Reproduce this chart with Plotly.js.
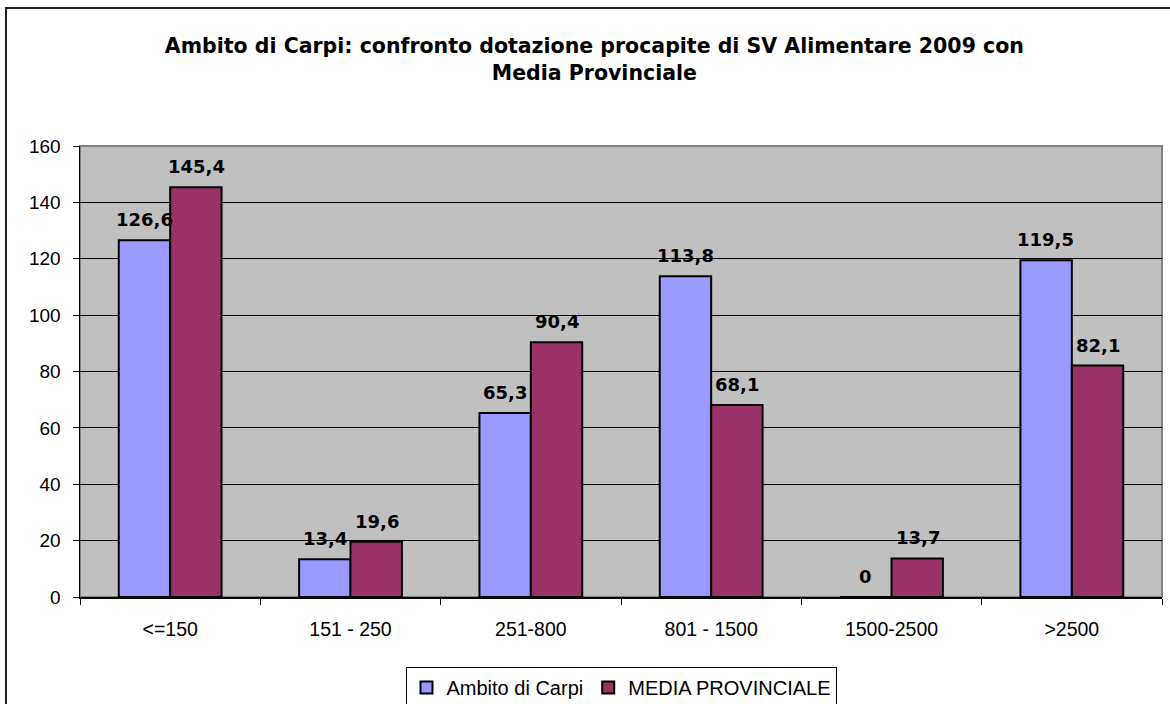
<!DOCTYPE html>
<html>
<head>
<meta charset="utf-8">
<script src="https://cdn.plot.ly/plotly-3.0.1.min.js"></script>
<style>
html,body{margin:0;padding:0;background:#fff;}
#wrap{position:relative;width:1170px;height:704px;overflow:hidden;}
#chart{position:absolute;left:0;top:0;width:1170px;height:704px;}
#frame{position:absolute;left:5px;top:7px;width:1200px;height:740px;border:2px solid #222;pointer-events:none;box-sizing:border-box;}
</style>
</head>
<body>
<div id="wrap"><div id="chart"></div><div id="frame"></div></div>
<script>
const categories = ['<=150', '151 - 250', '251-800', '801 - 1500', '1500-2500', '>2500'];
const carpi = [126.6, 13.4, 65.3, 113.8, 0, 119.5];
const provinciale = [145.4, 19.6, 90.4, 68.1, 13.7, 82.1];
const seriesNames = ['Ambito di Carpi', 'MEDIA PROVINCIALE'];
const yTicks = [0, 20, 40, 60, 80, 100, 120, 140, 160];

function fmt(v){ return v === 0 ? '0' : v.toFixed(1).replace('.', ','); }

const traces = [
  {type:'bar', name:seriesNames[0], x:categories, y:carpi,
   marker:{color:'#9999FF', line:{color:'#000', width:2}}},
  {type:'bar', name:seriesNames[1], x:categories, y:provinciale,
   marker:{color:'#993366', line:{color:'#000', width:2}}}
];

const annotations = [];
[carpi, provinciale].forEach((arr, si) => {
  arr.forEach((v, i) => {
    annotations.push({x:categories[i], y:v, xref:'x', yref:'y', text:fmt(v),
      showarrow:false, yanchor:'bottom', xshift: si === 0 ? -26 : 26, yshift:8,
      font:{family:'DejaVu Sans', size:18, color:'#000', weight:'bold'}});
  });
});

const layout = {
  width:1170, height:704,
  margin:{l:80, r:8, t:146, b:107, autoexpand:false},
  paper_bgcolor:'#fff', plot_bgcolor:'#C0C0C0',
  title:{text:'<b>Ambito di Carpi: confronto dotazione procapite di SV Alimentare 2009 con<br>Media Provinciale</b>',
    x:0.508, xref:'container', xanchor:'center', y:1-53/704, yref:'container', yanchor:'top',
    font:{family:'DejaVu Sans', size:20.5, color:'#000'}},
  barmode:'group', bargap:0.43, bargroupgap:0,
  showlegend:true,
  legend:{orientation:'h', x:0.5, xanchor:'center', y:-0.155, yanchor:'top',
    bordercolor:'#000', borderwidth:1, bgcolor:'#fff',
    font:{family:'Liberation Sans', size:20, color:'#000'}, itemwidth:30, tracegroupgap:0},
  xaxis:{type:'category', showline:true, linecolor:'#000', linewidth:1.5, ticks:'outside',
    tickson:'boundaries', ticklen:6, tickcolor:'#000', ticklabelstandoff:14,
    tickfont:{family:'Liberation Sans', size:19.5, color:'#000'}, showgrid:false, zeroline:false},
  yaxis:{range:[0,160], tickvals:yTicks, ticktext:yTicks.map(String), showline:true, linecolor:'#000', linewidth:1.5,
    ticks:'outside', ticklen:6, tickcolor:'#000', ticklabelstandoff:8, showgrid:true, gridcolor:'#000', gridwidth:1,
    tickfont:{family:'Liberation Sans', size:19, color:'#000'}, zeroline:false},
  shapes:[{type:'rect', xref:'paper', yref:'paper', x0:0, x1:1, y0:0, y1:1, line:{color:'#808080', width:2}, layer:'below'}],
  annotations: annotations
};

Plotly.newPlot('chart', traces, layout, {displayModeBar:false, staticPlot:true});
</script>
</body>
</html>
